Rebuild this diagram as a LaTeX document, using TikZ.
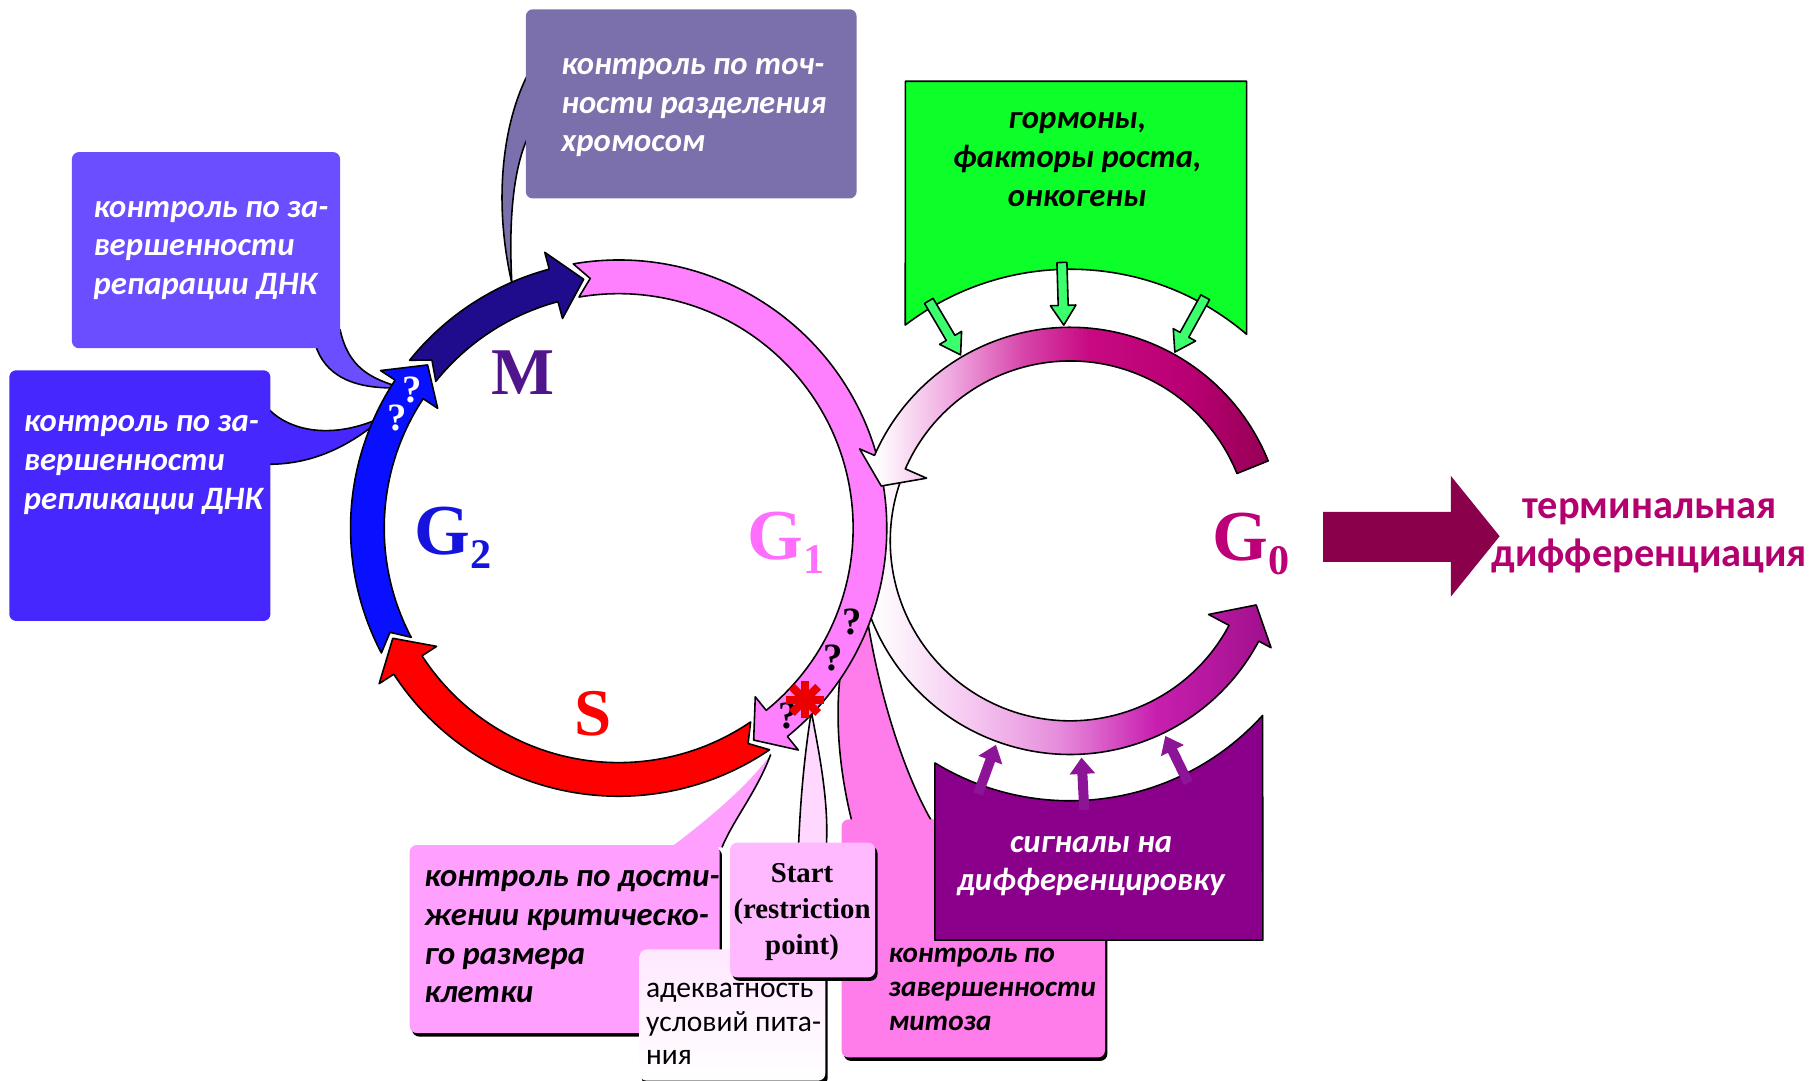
\documentclass[tikz,border=0pt]{standalone}
\usepackage{fontspec}
\setmainfont{Liberation Serif}
\newfontfamily\calfont{Carlito}

% phase arrows and labels
\definecolor{cPinkG}{RGB}{255,128,255}
\definecolor{cRedS}{RGB}{255,0,0}
\definecolor{cBlueG}{RGB}{8,16,255}
\definecolor{cNavyM}{RGB}{30,12,140}
\definecolor{cLabM}{RGB}{80,20,140}
\definecolor{cLabGtwo}{RGB}{20,20,220}
\definecolor{cLabGone}{RGB}{255,110,255}
\definecolor{cLabGzero}{RGB}{190,0,120}
% callouts
\definecolor{cBoxRep}{RGB}{107,78,255}
\definecolor{cBoxRepl}{RGB}{70,40,255}
\definecolor{cBoxChr}{RGB}{124,112,172}
\definecolor{cGreen}{RGB}{12,255,40}
\definecolor{cGreenArr}{RGB}{60,255,110}
\definecolor{cPurple}{RGB}{139,0,139}
\definecolor{cPurpleArr}{RGB}{140,20,150}
\definecolor{cSize}{RGB}{255,160,255}
\definecolor{cStart}{RGB}{255,185,255}
\definecolor{cStartTail}{RGB}{255,215,255}
\definecolor{cMitosis}{RGB}{255,125,235}
\definecolor{cFood}{RGB}{255,232,255}
\definecolor{cTerm}{RGB}{139,0,75}
\definecolor{cTermText}{RGB}{180,0,110}
\definecolor{cStar}{RGB}{235,0,0}
% G0 gradients
\definecolor{uA}{RGB}{240,170,225}
\definecolor{uB}{RGB}{215,70,170}
\definecolor{uC}{RGB}{200,10,130}
\definecolor{uD}{RGB}{185,0,115}
\definecolor{uE}{RGB}{150,0,85}
\definecolor{lA}{RGB}{245,200,240}
\definecolor{lB}{RGB}{230,140,220}
\definecolor{lC}{RGB}{200,30,175}
\definecolor{lD}{RGB}{160,16,140}

\pgfdeclarehorizontalshading{gzeroup}{100bp}{color(0bp)=(white); color(27bp)=(white); color(36bp)=(uA); color(45bp)=(uB); color(53bp)=(uC); color(65bp)=(uD); color(75bp)=(uE); color(100bp)=(uE)}
\pgfdeclarehorizontalshading{gzerolow}{100bp}{color(0bp)=(white); color(30bp)=(white); color(41bp)=(lA); color(51bp)=(lB); color(62bp)=(lC); color(75bp)=(lD); color(100bp)=(lD)}

\begin{document}
\begin{tikzpicture}[x=0.011607cm, y=-0.011607cm,
  outl/.style={draw=black, line width=0.45pt, line join=round},
  ctxt/.style={inner sep=0pt, align=left, anchor=north west,
    font=\calfont\bfseries\itshape\fontsize{9.3pt}{11pt}\selectfont},
  phase/.style={inner sep=0pt, anchor=base, font=\bfseries\fontsize{20.4pt}{20.4pt}\selectfont},
  qmark/.style={inner sep=0pt, font=\bfseries\fontsize{11pt}{11pt}\selectfont},
  shadowbox/.style={fill=black, rounded corners=2pt},
  greenarr/.style={outl, fill=cGreenArr},
  purplearr/.style={fill=cPurpleArr}
]
\useasboundingbox (0,0) rectangle (1568,931);
\fill[white] (0,0) rectangle (1568,931);

% ---------- callout tails ----------
\draw[outl, fill=cBoxRep] (272,298) .. controls (280,322) and (302,336) .. (346,334)
  .. controls (318,326) and (300,316) .. (293,284) -- (280,290) -- cycle;
\draw[outl, fill=cBoxRepl] (231,352) .. controls (252,374) and (292,378) .. (332,358)
  .. controls (300,386) and (268,400) .. (231,400) -- (220,376) -- cycle;
\draw[outl, fill=cBoxChr] (458,58) .. controls (434,100) and (424,170) .. (441,244)
  .. controls (438,190) and (442,140) .. (458,112) -- cycle;
\fill[cSize] (578,730) .. controls (615,702) and (645,676) .. (664,650)
  .. controls (652,682) and (632,706) .. (622,730) -- cycle;
\draw[outl] (664,650) .. controls (652,682) and (632,706) .. (622,730);
\draw[outl, fill=cStartTail] (688,728) .. controls (690,680) and (694,645) .. (699,613)
  .. controls (706,650) and (714,690) .. (712,728) -- cycle;
\draw[outl, fill=cMitosis] (734,708) .. controls (722,660) and (719,612) .. (725,574)
  -- (748,538) .. controls (760,610) and (782,672) .. (803,708) -- cycle;

% ---------- callout boxes ----------
\fill[cBoxRep, rounded corners=2pt] (62,131) rectangle (293,300);
\fill[cBoxRepl, rounded corners=2pt] (8,319) rectangle (233,535);
\fill[cBoxChr, rounded corners=2pt] (453,8) rectangle (738,171);
\draw[outl, fill=cGreen] (780,70) -- (1074,70) -- (1074,288)
  arc[start angle=-49.5, end angle=-127.4, radius=234] -- cycle;
% lower left group
\fill[shadowbox] (355,731) rectangle (622,893);
\fill[cSize, rounded corners=2pt] (353,728) rectangle (620,890);
\fill[shadowbox] (553,821) rectangle (713,935);
\shade[top color=cFood, bottom color=white, rounded corners=2pt] (551,818) rectangle (711,931);
\fill[shadowbox] (727,709) rectangle (954,914);
\fill[cMitosis, rounded corners=2pt] (725,706) rectangle (952,911);
\fill[shadowbox] (631,729) rectangle (756,845);
\fill[cStart, rounded corners=2pt] (629,726) rectangle (754,842);
\draw[outl, fill=cPurple] (805.5,810) -- (805.5,657.3)
  arc[start angle=121.3, end angle=42.2, radius=224] -- (1088,810) -- cycle;

% ---------- G0 loop, lower arc ----------
\begin{scope}[shift={(922,466)}]
\draw[outl, shading=gzerolow] (200:184) arc[start angle=200, end angle=28, radius=184]
  -- (28:196) -- (19:169.5) -- (28:135) -- (28:155)
  arc[start angle=28, end angle=200, radius=155] -- cycle;
\end{scope}

% ---------- mitotic cycle ----------
\begin{scope}[shift={(533,455)}]
% S
\draw[outl, fill=cRedS] (55.75:231) arc[start angle=55.75, end angle=147, radius=231]
  -- (147:246) -- (154:216.5) -- (147:187) -- (147:202)
  arc[start angle=147, end angle=55.75, radius=202] -- (59:216.5) -- cycle;
% G2
\draw[outl, fill=cBlueG] (152.25:231) arc[start angle=152.25, end angle=213.5, radius=231]
  -- (213.5:246) -- (220.5:216.5) -- (213.5:187) -- (213.5:202)
  arc[start angle=213.5, end angle=152.25, radius=202] -- (155.5:216.5) -- cycle;
% M
\draw[outl, fill=cNavyM] (218.75:231) arc[start angle=218.75, end angle=255, radius=231]
  -- (255:246) -- (262:216.5) -- (255:187) -- (255:202)
  arc[start angle=255, end angle=218.75, radius=202] -- (222:216.5) -- cycle;
% G1
\draw[outl, fill=cPinkG] (260.25:231) arc[start angle=260.25, end angle=411, radius=231]
  -- (411:246) -- (417.5:216.5) -- (411:187) -- (411:202)
  arc[start angle=411, end angle=260.25, radius=202] -- (263.5:216.5) -- cycle;
\end{scope}

% ---------- G0 loop, upper arc ----------
\begin{scope}[shift={(922,466)}]
\draw[outl, shading=gzeroup] (-22:184) arc[start angle=-22, end angle=-156.4, radius=184]
  -- (-156.4:198) -- (-163.8:169.5) -- (-156.4:135) -- (-156.4:155)
  arc[start angle=-156.4, end angle=-22, radius=155] -- cycle;
\end{scope}

% ---------- signal arrows ----------
\foreach \r in {120.5,91.7,61}{
  \begin{scope}[shift={(922,466)}, rotate=\r]
  \draw[greenarr] (240,-4.3) -- (203,-4.3) -- (203,-11) -- (186,0) -- (203,11) -- (203,4.3) -- (240,4.3) -- cycle;
  \end{scope}
}
\foreach \r in {-110,-87,-64}{
  \begin{scope}[shift={(922,466)}, rotate=\r]
  \fill[purplearr] (232,-4.3) -- (201,-4.3) -- (201,-11) -- (187,0) -- (201,11) -- (201,4.3) -- (232,4.3) -- cycle;
  \end{scope}
}

% ---------- terminal differentiation ----------
\fill[cTerm] (1140,441) -- (1250,441) -- (1250,410) -- (1292,462) -- (1250,514) -- (1250,484) -- (1140,484) -- cycle;
\node[inner sep=0pt, anchor=north, align=center, text=cTermText,
  font=\calfont\bfseries\fontsize{11.5pt}{13.8pt}\selectfont] (t-term) at (1421,416.7)
  {\strut терминальная\\дифференциация};

% ---------- callout texts ----------
\node[ctxt, text=white] (t-rep) at (80,163.2) {\strut контроль по за-\\вершенности\\репарации ДНК};
\node[ctxt, text=white] (t-repl) at (20,348.2) {\strut контроль по за-\\вершенности\\репликации ДНК};
\node[ctxt, text=white] (t-chr) at (483,40.2) {\strut контроль по точ-\\ности разделения\\хромосом};
\node[ctxt, anchor=north, align=center] (t-horm) at (928,87.2) {\strut гормоны,\\факторы роста,\\онкогены};
\node[ctxt, anchor=north, align=center, text=white] (t-diff) at (940,710.2) {\strut сигналы на\\дифференцировку};
\node[ctxt] (t-size) at (365,740.2) {\strut контроль по дости-\\жении критическо-\\го размера\\клетки};
\node[ctxt, font=\calfont\bfseries\itshape\fontsize{8.3pt}{9.7pt}\selectfont] (t-mit) at (765,808.3)
  {\strut контроль по\\завершенности\\митоза};
\node[ctxt, font=\calfont\fontsize{8.4pt}{9.5pt}\selectfont] (t-food) at (556,838.8)
  {\strut адекватность\\условий пита-\\ния};
\node[inner sep=0pt, anchor=north, align=center, font=\bfseries\fontsize{8.2pt}{10.2pt}\selectfont]
  (t-start) at (691,738.3) {\strut Start\\(restriction\\point)};

% ---------- phase labels ----------
\node[phase, text=cLabM, font=\bfseries\fontsize{19pt}{19pt}\selectfont] (l-M) at (451,340) {M};
\node[phase, text=cLabGtwo] (l-G2) at (390,478) {G\raisebox{-4pt}{\fontsize{12pt}{12pt}\selectfont 2}};
\node[phase, text=cLabGone] (l-G1) at (677,482) {G\raisebox{-4pt}{\fontsize{12pt}{12pt}\selectfont 1}};
\node[phase, text=cRedS, font=\bfseries\fontsize{19pt}{19pt}\selectfont] (l-S) at (511,634) {S};
\node[phase, text=cLabGzero] (l-G0) at (1078,483) {G\raisebox{-4pt}{\fontsize{12pt}{12pt}\selectfont 0}};

% ---------- checkpoints ----------
\node[qmark, text=white] (q-a) at (355,336) {?};
\node[qmark, text=white] (q-b) at (342,360) {?};
\node[qmark] (q-c) at (734,536) {?};
\node[qmark] (q-d) at (718,567) {?};
\node[qmark] (q-e) at (679,617) {?};
\foreach \a in {0,45,90,135}
  \draw[cStar, line width=2.3pt] (693.5,603) ++(\a:16) -- ++(\a+180:32);
\end{tikzpicture}
\end{document}
